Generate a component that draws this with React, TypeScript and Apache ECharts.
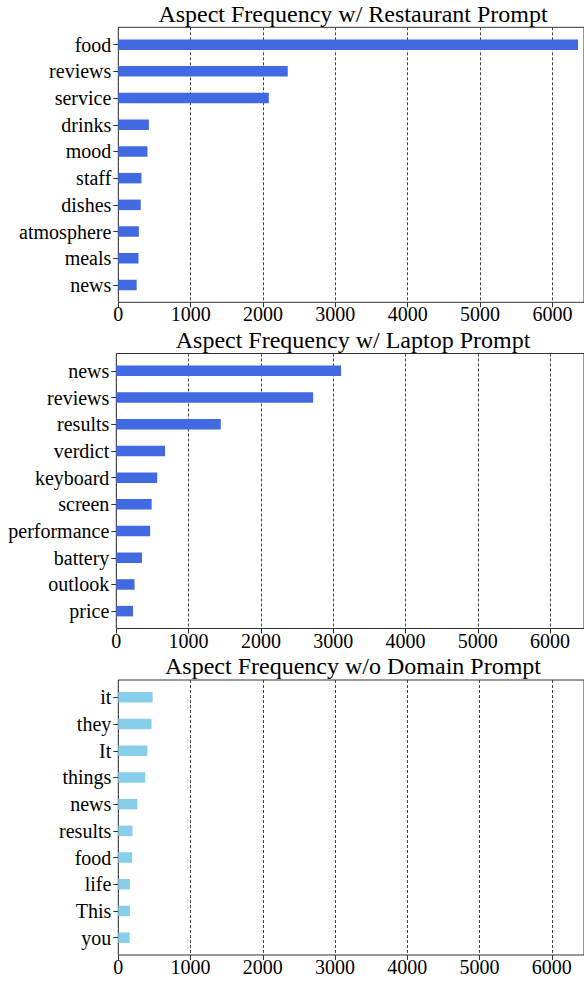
import React, { useEffect, useRef } from "react";
import * as echarts from "echarts";

// ---- data ----
const restaurantCategories = ["food", "reviews", "service", "drinks", "mood", "staff", "dishes", "atmosphere", "meals", "news"];
const restaurantValues = [6354, 2342, 2080, 423, 403, 320, 310, 284, 279, 254];

const laptopCategories = ["news", "reviews", "results", "verdict", "keyboard", "screen", "performance", "battery", "outlook", "price"];
const laptopValues = [3109, 2723, 1445, 674, 566, 489, 468, 355, 252, 231];

const noDomainCategories = ["it", "they", "It", "things", "news", "results", "food", "life", "This", "you"];
const noDomainValues = [475, 460, 403, 373, 264, 197, 192, 161, 161, 158];

const titles = [
  "Aspect Frequency w/ Restaurant Prompt",
  "Aspect Frequency w/ Laptop Prompt",
  "Aspect Frequency w/o Domain Prompt",
];
const tickInterval = 1000;

const FONT = "Liberation Serif";

export default function App() {
  const ref = useRef<HTMLDivElement>(null);

  useEffect(() => {
    if (!ref.current) return;
    const chart = echarts.init(ref.current, null, { renderer: "svg" });

    const panels = [
      { title: titles[0], cats: restaurantCategories, vals: restaurantValues, color: "#4169e1", top: 27.3, left: 118.3, max: 6437, titleY: 14 },
      { title: titles[1], cats: laptopCategories, vals: laptopValues, color: "#4169e1", top: 353.5, left: 116.3, max: 6469, titleY: 340 },
      { title: titles[2], cats: noDomainCategories, vals: noDomainValues, color: "#87ceeb", top: 680, left: 118.3, max: 6446, titleY: 666 },
    ];
    const frameH = 275;
    const pad = 4;

    const grid: any[] = [];
    const xAxis: any[] = [];
    const yAxis: any[] = [];
    const series: any[] = [];
    const graphic: any[] = [];

    panels.forEach((p, i) => {
      const fi = 2 * i;
      const bi = 2 * i + 1;
      const width = 585 - p.left;
      grid.push({
        left: p.left, top: p.top, width, height: frameH,
        show: true, borderColor: "#333", borderWidth: 1, backgroundColor: "transparent",
      });
      grid.push({ left: p.left, top: p.top + pad, width, height: frameH - 2 * pad });

      xAxis.push({
        gridIndex: fi, type: "value", min: 0, max: p.max, interval: tickInterval,
        axisLine: { show: false },
        axisTick: { show: true, length: 5, lineStyle: { color: "#333" } },
        splitLine: { show: true, lineStyle: { color: "#444", type: [3, 2], width: 1 } },
        axisLabel: {
          showMaxLabel: false, fontFamily: FONT, fontSize: 20, color: "#000", margin: 2,
          formatter: (v: number) => String(v),
        },
      });
      yAxis.push({ gridIndex: fi, type: "value", show: false, min: 0, max: 1 });

      xAxis.push({ gridIndex: bi, type: "value", min: 0, max: p.max, show: false });
      yAxis.push({
        gridIndex: bi, type: "category", data: p.cats, inverse: true,
        axisLine: { show: false },
        axisTick: { show: true, alignWithLabel: true, length: 5, lineStyle: { color: "#333" } },
        axisLabel: { fontFamily: FONT, fontSize: 20, color: "#000", margin: 7 },
      });

      series.push({
        type: "bar", xAxisIndex: bi, yAxisIndex: bi, data: p.vals,
        barWidth: 10.5, itemStyle: { color: p.color },
      });

      graphic.push({
        type: "text", x: 353, y: p.titleY,
        style: {
          text: p.title, fontFamily: FONT, fontSize: 24, fill: "#000",
          textAlign: "center", textVerticalAlign: "middle",
        },
      });
    });

    chart.setOption({
      animation: false,
      backgroundColor: "#fff",
      grid, xAxis, yAxis, series, graphic,
    });

    return () => chart.dispose();
  }, []);

  return <div ref={ref} style={{ position: "absolute", left: 0, top: 0, width: 584, height: 981 }} />;
}
